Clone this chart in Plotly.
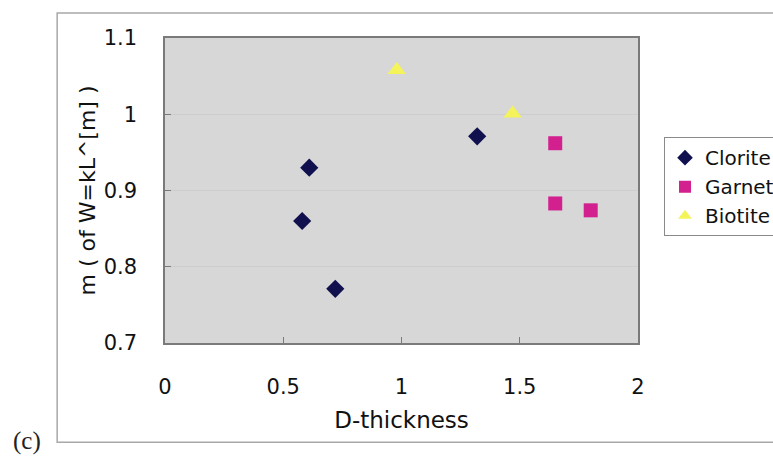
import plotly.graph_objects as go

# Measured thickness (D) and exponent m of W = kL^m, grouped by mineral
clorite_d = [0.61, 0.58, 0.72, 1.32]
clorite_m = [0.930, 0.860, 0.771, 0.971]

garnet_d = [1.65, 1.65, 1.80]
garnet_m = [0.962, 0.883, 0.874]

biotite_d = [0.98, 1.47]
biotite_m = [1.058, 1.001]

x_ticks = [0, 0.5, 1, 1.5, 2]
y_ticks = [0.7, 0.8, 0.9, 1.0, 1.1]

FONT = "DejaVu Sans"

fig = go.Figure()
fig.add_trace(go.Scatter(
    x=clorite_d, y=clorite_m, mode="markers", name="Clorite",
    marker=dict(symbol="diamond", size=14, color="#10104e",
                line=dict(width=0)),
))
fig.add_trace(go.Scatter(
    x=garnet_d, y=garnet_m, mode="markers", name="Garnet",
    marker=dict(symbol="square", size=14, color="#d2208f",
                line=dict(width=0)),
))
fig.add_trace(go.Scatter(
    x=biotite_d, y=biotite_m, mode="markers", name="Biotite",
    marker=dict(symbol="triangle-up", size=16, color="#f4f45a",
                line=dict(width=0)),
))

fig.update_layout(
    width=773, height=459,
    margin=dict(l=165, r=135, t=38, b=116, autoexpand=False),
    paper_bgcolor="white",
    plot_bgcolor="#d7d7d7",
    font=dict(family=FONT, color="#111111", size=21),
    showlegend=True,
    legend=dict(
        x=1.055, y=0.675, xanchor="left", yanchor="top",
        bgcolor="white", bordercolor="#8a8a8a", borderwidth=1,
        font=dict(family=FONT, size=20, color="#111111"),
        itemsizing="constant", itemwidth=30, tracegroupgap=4,
    ),
    shapes=[
        # outer chart frame
        dict(type="rect", xref="paper", yref="paper",
             x0=-0.228, x1=1.6, y0=-0.325, y1=1.082,
             line=dict(color="#a8a8a8", width=1.5), layer="below"),
    ],
    annotations=[
        dict(text="(c)", xref="paper", yref="paper",
             x=-0.292, y=-0.32, xanchor="center", yanchor="middle",
             showarrow=False,
             font=dict(family="Liberation Serif", size=25, color="#222222")),
    ],
)

fig.update_xaxes(
    range=[0, 2], tickvals=x_ticks, ticktext=[f"{v:g}" for v in x_ticks],
    showgrid=False, zeroline=False,
    showline=True, mirror=True, linecolor="#7a7a7a", linewidth=1.5,
    ticks="inside", ticklen=6, tickcolor="#7a7a7a", tickwidth=1,
    ticklabelstandoff=24,
    title=dict(text="D-thickness", standoff=14,
               font=dict(family=FONT, size=23, color="#111111")),
)
fig.update_yaxes(
    range=[0.7, 1.1], tickvals=y_ticks, ticktext=[f"{v:g}" for v in y_ticks],
    showgrid=True, gridcolor="#cdcdcd", gridwidth=1,
    zeroline=False,
    showline=True, mirror=True, linecolor="#7a7a7a", linewidth=1.5,
    ticks="inside", ticklen=6, tickcolor="#7a7a7a", tickwidth=1,
    ticklabelstandoff=22,
    title=dict(text="m ( of W=kL^[m] )", standoff=2,
               font=dict(family=FONT, size=22, color="#111111")),
)

fig.write_html("out.html")
